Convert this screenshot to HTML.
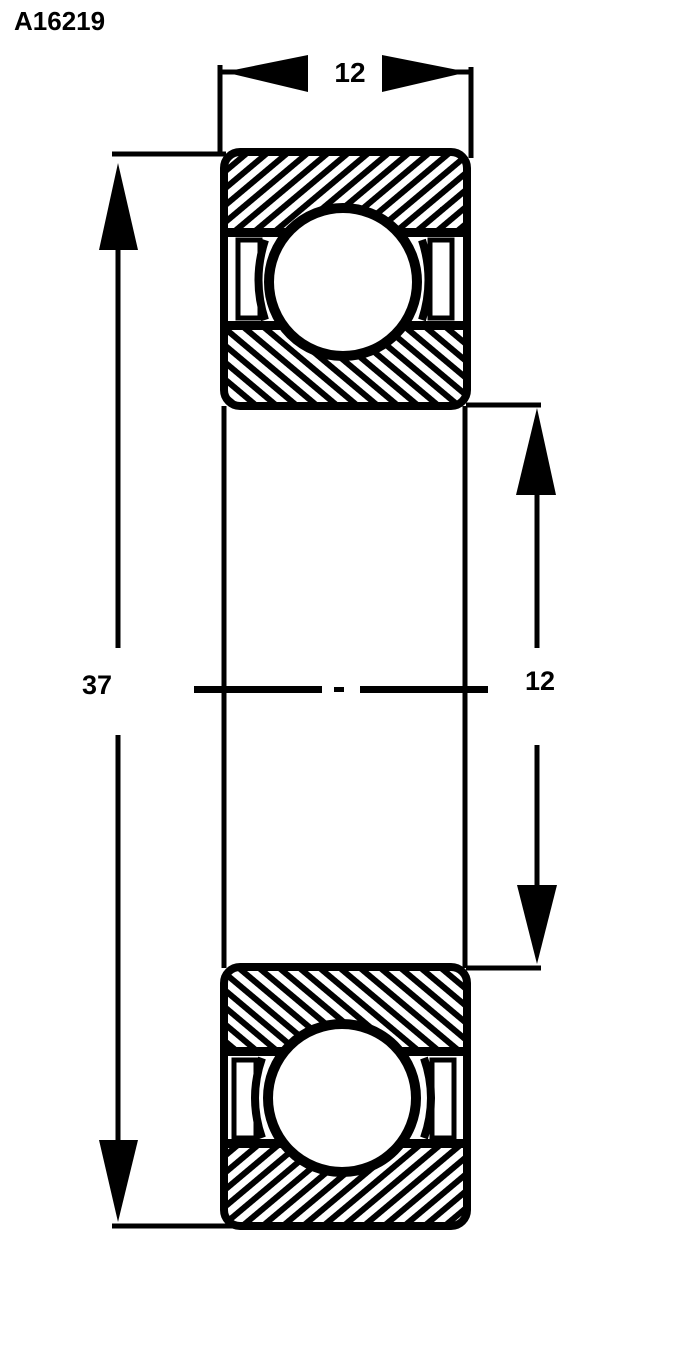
<!DOCTYPE html>
<html><head><meta charset="utf-8"><style>
html,body{margin:0;padding:0;background:#fff;width:700px;height:1360px;overflow:hidden}
svg{display:block}
text{font-family:"Liberation Sans",sans-serif;font-weight:bold;fill:#000}
</style></head><body>
<svg width="700" height="1360" viewBox="0 0 700 1360">
<defs>
<pattern id="hf" width="13" height="13" patternUnits="userSpaceOnUse" patternTransform="rotate(-40)">
<rect width="13" height="13" fill="#fff"/><rect width="13" height="6" fill="#000"/></pattern>
<pattern id="hb" width="13" height="13" patternUnits="userSpaceOnUse" patternTransform="rotate(40)">
<rect width="13" height="13" fill="#fff"/><rect width="13" height="6" fill="#000"/></pattern>
<clipPath id="c1"><rect x="224" y="152" width="243" height="254" rx="16"/></clipPath>
<clipPath id="c2"><rect x="224" y="967" width="243" height="259" rx="16"/></clipPath>
</defs>
<text x="14" y="30" font-size="26">A16219</text>

<!-- top bearing -->
<g clip-path="url(#c1)">
<rect x="224" y="152" width="243" height="80" fill="url(#hf)"/>
<rect x="224" y="328" width="243" height="80" fill="url(#hb)"/>
<rect x="224" y="228" width="243" height="9" fill="#000"/>
<rect x="224" y="321" width="243" height="9" fill="#000"/>
<rect x="224" y="237" width="243" height="84" fill="#fff"/>
<rect x="238" y="240" width="22" height="78" fill="none" stroke="#000" stroke-width="5"/>
<rect x="430" y="240" width="22" height="78" fill="none" stroke="#000" stroke-width="5"/>
<path d="M265 240 Q252 280 265 320" fill="none" stroke="#000" stroke-width="8"/>
<path d="M422 240 Q435 280 422 320" fill="none" stroke="#000" stroke-width="8"/>
</g>
<circle cx="343" cy="282" r="74" fill="#fff" stroke="#000" stroke-width="10"/>
<rect x="224" y="152" width="243" height="254" rx="16" fill="none" stroke="#000" stroke-width="8"/>

<!-- bottom bearing -->
<g clip-path="url(#c2)">
<rect x="224" y="967" width="243" height="84" fill="url(#hb)"/>
<rect x="224" y="1145" width="243" height="83" fill="url(#hf)"/>
<rect x="224" y="1047" width="243" height="9" fill="#000"/>
<rect x="224" y="1139" width="243" height="9" fill="#000"/>
<rect x="224" y="1056" width="243" height="83" fill="#fff"/>
<rect x="234" y="1060" width="22" height="78" fill="none" stroke="#000" stroke-width="5"/>
<rect x="432" y="1060" width="22" height="78" fill="none" stroke="#000" stroke-width="5"/>
<path d="M262 1058 Q248 1098 262 1138" fill="none" stroke="#000" stroke-width="8"/>
<path d="M424 1058 Q438 1098 424 1138" fill="none" stroke="#000" stroke-width="8"/>
</g>
<circle cx="342" cy="1098" r="74" fill="#fff" stroke="#000" stroke-width="10"/>
<rect x="224" y="967" width="243" height="259" rx="16" fill="none" stroke="#000" stroke-width="8"/>

<!-- bore lines -->
<line x1="224" y1="406" x2="224" y2="968" stroke="#000" stroke-width="5"/>
<line x1="465" y1="406" x2="465" y2="968" stroke="#000" stroke-width="5"/>

<!-- centre line -->
<g fill="#000">
<rect x="194" y="686" width="128" height="7"/>
<rect x="334" y="687" width="10" height="5"/>
<rect x="360" y="686" width="128" height="7"/>
</g>

<!-- top dimension -->
<g stroke="#000" stroke-width="5" fill="#000">
<line x1="220" y1="65" x2="220" y2="155"/>
<line x1="471" y1="67" x2="471" y2="158"/>
<line x1="220" y1="72" x2="240" y2="72"/>
<line x1="455" y1="72" x2="471" y2="72"/>
</g>
<polygon points="224,72 308,55 308,92" fill="#000"/>
<polygon points="468,72 382,55 382,92" fill="#000"/>
<text x="350" y="82" font-size="28" text-anchor="middle">12</text>

<!-- left dimension -->
<g stroke="#000" stroke-width="5">
<line x1="112" y1="154" x2="226" y2="154"/>
<line x1="112" y1="1226" x2="232" y2="1226"/>
<line x1="118" y1="200" x2="118" y2="648"/>
<line x1="118" y1="735" x2="118" y2="1180"/>
</g>
<polygon points="118,163 99,250 138,250" fill="#000"/>
<polygon points="118,1222 99,1140 138,1140" fill="#000"/>
<text x="97" y="694" font-size="27" text-anchor="middle">37</text>

<!-- right dimension -->
<g stroke="#000" stroke-width="5">
<line x1="466" y1="405" x2="541" y2="405"/>
<line x1="466" y1="968" x2="541" y2="968"/>
<line x1="537" y1="440" x2="537" y2="648"/>
<line x1="537" y1="745" x2="537" y2="930"/>
</g>
<polygon points="537,408 516,495 556,495" fill="#000"/>
<polygon points="537,964 517,885 557,885" fill="#000"/>
<text x="540" y="690" font-size="27" text-anchor="middle">12</text>
</svg>
</body></html>
